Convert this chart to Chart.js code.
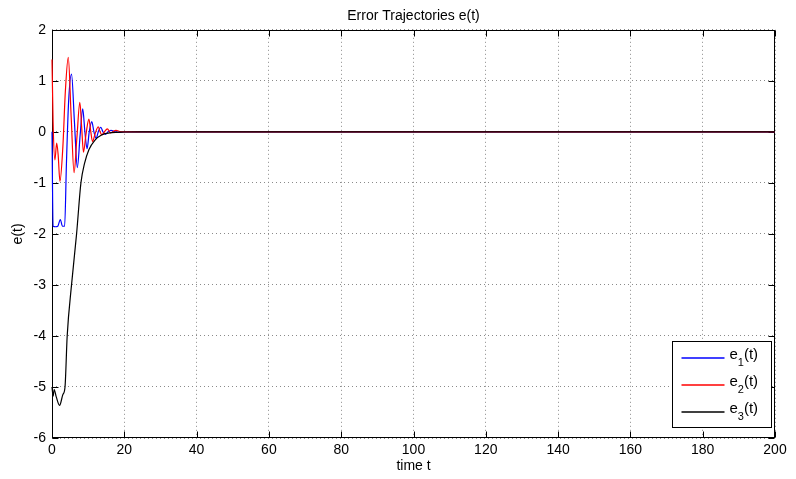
<!DOCTYPE html>
<html>
<head>
<meta charset="utf-8">
<script src="https://cdn.jsdelivr.net/npm/chart.js@4"></script>
<style>
  html, body { margin: 0; padding: 0; background: #fff; }
  #wrap { width: 796px; height: 479px; }
</style>
</head>
<body>
<div id="wrap"><canvas id="errChart" width="796" height="479"></canvas></div>
<script>
// e1(t) - blue
let e1Time   = [0, 0.3, 1.0, 1.6, 2.3, 2.9, 3.5, 4.0, 4.6, 5.4, 6.2, 7.0, 7.8, 8.5, 9.1, 9.7, 10.3, 11.0, 11.6, 12.2, 12.8, 13.5, 14.1, 14.8, 15.5, 16.3, 17.5, 18.5, 20, 30, 200];
let e1Values = [0, -1.85, -1.86, -1.85, -1.72, -1.85, -1.85, -0.6, 0.6, 1.13, 0.2, -0.7, -0.05, 0.45, 0.0, -0.33, 0.0, 0.2, 0.0, -0.13, 0.0, 0.09, 0.0, -0.05, 0.0, 0.03, 0.0, -0.01, 0, 0, 0];

// e2(t) - red
let e2Time   = [0, 0.3, 0.8, 1.3, 1.7, 2.2, 3.0, 3.7, 4.5, 5.3, 6.1, 6.9, 7.7, 8.2, 8.7, 9.4, 10.2, 10.7, 11.2, 12.0, 12.8, 13.3, 13.8, 14.5, 15.3, 16.2, 17.7, 19, 21, 30, 200];
let e2Values = [1.42, 0.2, -0.55, -0.22, -0.45, -0.97, -0.3, 0.8, 1.46, 0.3, -0.8, -0.1, 0.58, 0.1, -0.4, -0.05, 0.25, 0.02, -0.19, -0.02, 0.1, 0.0, -0.06, 0.0, 0.06, -0.02, 0.03, 0.0, 0, 0, 0];

// e3(t) - black
let e3Time   = [0, 0.3, 0.6, 1.2, 2.1, 3.0, 3.6, 4.2, 5.4, 6.8, 8.0, 9.0, 10.2, 11.9, 13.7, 16.5, 20, 25, 200];
let e3Values = [-5.0, -5.18, -5.05, -5.2, -5.36, -5.15, -5.0, -4.0, -3.0, -2.0, -1.0, -0.62, -0.35, -0.16, -0.06, -0.015, -0.003, 0, 0];

let seriesNames  = ["e1(t)", "e2(t)", "e3(t)"];
let seriesColors = ["#0000ff", "#ff0000", "#000000"];

let xTicks = [0, 20, 40, 60, 80, 100, 120, 140, 160, 180, 200];
let yTicks = [-6, -5, -4, -3, -2, -1, 0, 1, 2];

function toPoints(ts, vs) {
    return ts.map((t, i) => ({ x: t, y: vs[i] }));
}

let fontFamily = "'Liberation Sans', Arial, sans-serif";

// frame + inward tick marks under the curves, boxed legend on top (MATLAB look)
const matlabFrame = {
    id: "matlabFrame",
    beforeDatasetsDraw(chart) {
        let ctx = chart.ctx;
        let a = chart.chartArea;
        let xs = chart.scales.x, ys = chart.scales.y;
        let L = Math.round(a.left) + 0.5, R = Math.round(a.right) - 0.5;
        let T = Math.round(a.top) + 0.5, B = Math.round(a.bottom) - 0.5;
        ctx.save();
        ctx.strokeStyle = "#000";
        ctx.lineWidth = 1;
        ctx.strokeRect(L, T, R - L, B - T);
        ctx.beginPath();
        xTicks.forEach(v => {
            let px = Math.round(xs.getPixelForValue(v)) + 0.5;
            ctx.moveTo(px, B); ctx.lineTo(px, B - 6);
            ctx.moveTo(px, T); ctx.lineTo(px, T + 6);
        });
        yTicks.forEach(v => {
            let py = Math.round(ys.getPixelForValue(v)) + 0.5;
            ctx.moveTo(L, py); ctx.lineTo(L + 6, py);
            ctx.moveTo(R, py); ctx.lineTo(R - 6, py);
        });
        ctx.stroke();
        ctx.restore();
    },
    afterDatasetsDraw(chart) {
        let ctx = chart.ctx;
        let a = chart.chartArea;
        let R = Math.round(a.right) - 0.5, B = Math.round(a.bottom) - 0.5;
        let boxR = R - 3, boxB = B - 10, boxW = 99, boxH = 86;
        let boxL = boxR - boxW, boxT = boxB - boxH;
        ctx.save();
        ctx.lineWidth = 1;
        ctx.fillStyle = "#fff";
        ctx.strokeStyle = "#000";
        ctx.fillRect(boxL, boxT, boxW, boxH);
        ctx.strokeRect(boxL, boxT, boxW, boxH);
        seriesNames.forEach((name, i) => {
            let rowY = Math.round(boxT + 16 + i * 27);
            ctx.lineWidth = 1.5;
            ctx.strokeStyle = seriesColors[i];
            ctx.beginPath();
            ctx.moveTo(boxL + 9, rowY);
            ctx.lineTo(boxL + 52, rowY);
            ctx.stroke();
            // e, subscript index, (t)
            ctx.fillStyle = "#000";
            ctx.textBaseline = "middle";
            ctx.textAlign = "left";
            ctx.font = "15px " + fontFamily;
            let tx = boxL + 57;
            ctx.fillText("e", tx, rowY - 3);
            tx += ctx.measureText("e").width;
            ctx.font = "11px " + fontFamily;
            let sub = name.charAt(1);
            ctx.fillText(sub, tx, rowY + 5);
            tx += ctx.measureText(sub).width;
            ctx.font = "15px " + fontFamily;
            ctx.fillText(name.slice(2), tx, rowY - 3);
        });
        ctx.restore();
    }
};

new Chart(document.getElementById("errChart").getContext("2d"), {
    type: "line",
    data: {
        datasets: [
            // higher order is drawn first, so e3 ends up on top like the original plot
            { label: seriesNames[0], data: toPoints(e1Time, e1Values), borderColor: seriesColors[0], order: 3 },
            { label: seriesNames[1], data: toPoints(e2Time, e2Values), borderColor: seriesColors[1], order: 2 },
            { label: seriesNames[2], data: toPoints(e3Time, e3Values), borderColor: seriesColors[2], order: 1 }
        ]
    },
    options: {
        responsive: false,
        animation: false,
        layout: { padding: { top: 0, right: 21, left: 0, bottom: 0 } },
        datasets: { line: { clip: 3 } },
        elements: {
            point: { radius: 0 },
            line: { borderWidth: 1.2, cubicInterpolationMode: "monotone" }
        },
        scales: {
            x: {
                type: "linear",
                min: 0,
                max: 200,
                afterBuildTicks: s => { s.ticks = xTicks.map(v => ({ value: v })); },
                afterFit: s => { s.height = 41; },
                ticks: { color: "#000", font: { family: fontFamily, size: 14 }, padding: 4, maxRotation: 0 },
                grid: { color: "#8a8a8a", drawTicks: false },
                border: { display: false, dash: [1, 3] },
                title: { display: true, text: "time t", color: "#000", font: { family: fontFamily, size: 14 }, padding: { top: 0, bottom: 4 } }
            },
            y: {
                min: -6,
                max: 2,
                afterBuildTicks: s => { s.ticks = yTicks.map(v => ({ value: v })); },
                afterFit: s => { s.width = 52; },
                ticks: { color: "#000", font: { family: fontFamily, size: 14 }, padding: 6 },
                grid: { color: "#8a8a8a", drawTicks: false },
                border: { display: false, dash: [1, 3] },
                title: { display: true, text: "e(t)", color: "#000", font: { family: fontFamily, size: 14 }, padding: { top: 10, bottom: 0 } }
            }
        },
        plugins: {
            legend: { display: false },
            tooltip: { enabled: false },
            title: {
                display: true,
                fullSize: false,
                text: "Error Trajectories e(t)",
                color: "#000",
                font: { family: fontFamily, size: 14, weight: "normal" },
                padding: { top: 8, bottom: 5 }
            }
        }
    },
    plugins: [matlabFrame]
});
</script>
</body>
</html>
